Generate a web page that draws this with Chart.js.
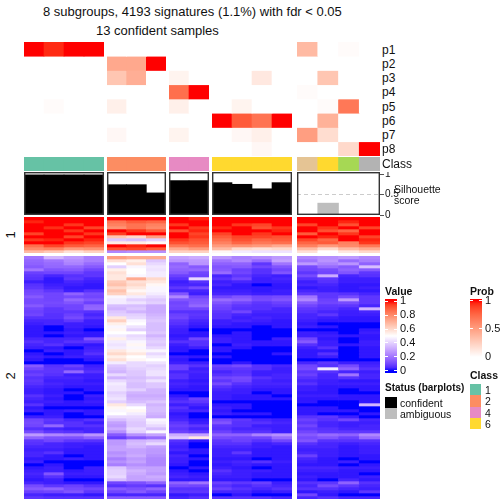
<!DOCTYPE html>
<html>
<head>
<meta charset="utf-8">
<style>
  html, body { margin: 0; background: #fff; width: 504px; height: 504px; overflow: hidden; }
  canvas, .t, .box { position: absolute; }
  .t { font-family: "Liberation Sans", sans-serif; color: #111; white-space: nowrap; line-height: 1; transform: translateY(-50%); }
  .b { font-weight: bold; }
</style>
<script src="https://cdn.jsdelivr.net/npm/chart.js@4"></script>
</head>
<body>
<script>
const probLabels = ["p1", "p2", "p3", "p4", "p5", "p6", "p7", "p8"];

// membership probability, one row per p, 17 samples
const p1 = [1, .95, 1, 1, 0, 0, 0, 0, 0, 0, 0, 0, 0, .36, 0, .02, 0];
const p2 = [0, 0, 0, 0, .45, .45, 1, 0, 0, 0, 0, 0, 0, 0, 0, 0, 0];
const p3 = [0, 0, 0, 0, .3, .42, 0, .06, 0, 0, 0, .12, 0, 0, .3, 0, 0];
const p4 = [0, 0, 0, 0, 0, 0, 0, .72, 1, 0, 0, 0, 0, .02, 0, 0, 0];
const p5 = [0, .02, 0, 0, .08, 0, 0, .08, 0, 0, .06, 0, 0, 0, .02, .68, 0];
const p6 = [0, 0, 0, 0, 0, 0, 0, 0, 0, 1, .8, .7, 1, 0, .4, 0, 0];
const p7 = [0, 0, 0, 0, .04, 0, 0, .06, 0, 0, .04, .08, 0, .5, .18, 0, 0];
const p8 = [0, 0, 0, 0, 0, 0, 0, 0, 0, 0, 0, .04, 0, 0, 0, .2, 1];

const sampleClass = [1, 1, 1, 1, 2, 2, 2, 4, 4, 6, 6, 6, 6, 7, 6, 5, 8];
const silhouette = [.98, .98, .98, .98, .74, .74, .54, .84, .84, .79, .75, .64, .79, 0, .29, 0, 0];
const silStatus = ["c", "c", "c", "c", "c", "c", "c", "c", "c", "c", "c", "c", "c", "a", "a", "a", "a"];

const valueTicks = [0, .2, .4, .6, .8, 1];
const probTicks = [0, .5, 1];
const silTicks = [0, .5, 1];

const sliceSize = [4, 3, 2, 4, 4];
const sliceX = [24, 107, 169, 212, 297];
const sliceW = [80, 59, 40, 80, 83];

const classColors = { 1: "#66C2A5", 2: "#FC8D62", 4: "#E78AC3", 5: "#A6D854", 6: "#FFD92F", 7: "#E5C494", 8: "#B3B3B3" };

// expression values in percent, row cluster 1
const top1 = [[100,100,100,100],[98,100,100,100],[100,100,96,100],[100,97,100,94],[100,100,96,100],[94,100,100,96],[100,100,94,100],[96,98,100,98],[100,100,96,94],[86,94,90,88],[80,82,76,78],[68,64,58,62]];
const top2 = [[100,100,100],[85,90,88],[82,85,82],[78,85,80],[100,96,90],[95,100,100],[65,60,75],[38,36,40],[55,55,52],[100,98,100],[92,94,90],[24,26,26]];
const top3 = [[100,98],[100,100],[96,100],[100,96],[92,98],[100,94],[100,96],[96,92],[92,90],[84,86],[72,76],[62,62]];
const top4 = [[100,100,100,100],[100,100,100,100],[100,96,94,100],[98,100,92,96],[100,100,100,98],[94,100,96,100],[90,94,94,92],[86,92,88,90],[82,88,84,86],[76,78,76,72],[68,60,58,60],[52,46,44,44]];
const top5 = [[100,100,100,100],[100,100,98,100],[94,100,92,100],[100,96,100,94],[100,92,88,100],[90,100,96,100],[100,98,100,94],[94,88,100,98],[88,90,82,96],[82,76,80,84],[68,60,68,72],[58,50,56,60]];

// row cluster 2
const low1 = [[20,34,28,22],[17,20,25,22],[16,18,23,18],[14,17,17,14],[20,13,14,10],[9,10,10,7],[7,4,6,7],[6,2,7,4],[3,2,4,3],[6,3,3,2],[7,4,2,2],[10,7,3,6],[11,10,16,11],[14,10,11,10],[11,10,17,13],[11,11,13,9],[14,10,10,16],[10,7,10,17],[9,7,7,6],[10,6,9,4],[6,6,11,6],[4,4,7,3],[3,4,3,3],[2,0,3,2],[2,0,2,0],[2,2,3,2],[2,0,2,2],[4,4,4,13],[6,4,6,7],[4,6,3,2],[3,2,0,3],[0,3,2,4],[2,0,2,6],[3,2,3,3],[2,0,0,2],[0,0,0,0],[14,6,9,3],[10,7,6,4],[7,7,17,6],[9,6,3,3],[6,4,4,3],[7,3,3,2],[6,4,3,3],[4,3,2,2],[3,2,0,2],[3,2,2,0],[6,3,0,3],[4,2,0,2],[3,3,2,3],[6,2,2,2],[2,0,0,0],[3,2,3,2],[0,2,0,2],[3,3,0,0],[10,7,4,6],[11,6,6,3],[10,17,6,6],[6,4,3,4],[11,7,6,4],[28,24,22,27],[16,12,12,16],[7,10,7,6],[6,4,3,3],[4,4,3,2],[3,3,2,2],[4,6,2,2],[4,2,0,2],[2,2,3,2],[3,0,0,0],[0,2,0,0],[2,3,0,3],[3,3,2,3],[4,13,3,3],[3,6,2,2],[2,3,0,0],[4,3,2,2],[11,7,9,6],[14,16,11,10],[9,10,13,7],[4,3,3,2],[7,6,6,6]];
const low2 = [[75,72,72],[58,54,38],[50,58,42],[40,48,45],[54,50,44],[58,50,46],[56,48,46],[56,72,60],[64,58,56],[66,60,52],[60,56,48],[66,52,48],[62,56,46],[48,46,42],[46,40,38],[46,44,40],[36,36,32],[34,38,32],[38,34,32],[40,40,34],[56,42,36],[62,48,38],[54,50,36],[48,44,36],[52,40,36],[50,50,38],[46,42,34],[54,44,38],[46,48,40],[44,52,38],[46,48,42],[56,52,48],[60,56,42],[54,50,46],[58,52,50],[46,42,44],[38,42,40],[36,40,42],[34,38,44],[42,38,44],[34,36,38],[42,38,44],[46,36,38],[44,36,38],[44,40,34],[40,34,34],[42,32,32],[44,34,34],[40,36,38],[56,42,34],[52,50,36],[48,52,36],[50,46,34],[42,42,32],[36,40,48],[30,38,46],[28,38,42],[32,42,36],[26,40,48],[14,26,30],[8,14,18],[28,34,36],[28,36,42],[30,34,30],[30,30,28],[26,30,28],[28,32,26],[22,28,24],[26,30,24],[22,26,24],[38,30,30],[40,34,30],[40,32,28],[42,30,32],[36,30,30],[10,12,16],[6,8,6],[14,12,16],[10,14,10],[4,4,4],[14,14,14]];
const low3 = [[30,32],[27,28],[16,27],[18,14],[16,17],[14,10],[9,9],[6,42],[3,6],[4,4],[7,11],[4,4],[13,3],[24,10],[13,13],[10,14],[11,17],[10,10],[6,6],[9,7],[10,6],[7,4],[6,3],[4,2],[3,0],[3,2],[2,2],[3,10],[6,6],[3,6],[2,3],[2,0],[0,0],[3,2],[2,0],[3,3],[9,6],[9,3],[4,4],[6,3],[6,3],[3,2],[4,3],[3,2],[2,2],[0,0],[2,0],[4,9],[6,7],[3,4],[6,2],[4,4],[2,0],[3,0],[4,2],[7,3],[9,7],[7,4],[9,7],[32,30],[38,56],[6,2],[4,0],[3,0],[4,2],[2,2],[4,0],[3,2],[3,0],[2,0],[0,2],[2,0],[3,2],[4,3],[2,2],[16,20],[11,10],[6,6],[7,7],[2,3],[4,6]];
const low4 = [[28,23,25,28],[20,24,18,30],[16,16,7,20],[13,14,10,13],[14,9,6,10],[18,10,6,13],[4,7,4,3],[6,10,3,4],[3,4,3,3],[4,2,0,2],[2,2,2,2],[3,3,2,3],[4,4,3,3],[10,13,10,11],[18,16,11,13],[13,10,7,9],[10,7,6,7],[9,6,6,4],[7,10,4,4],[6,4,3,3],[6,3,4,3],[3,4,3,2],[3,2,2,2],[2,2,0,2],[0,0,0,0],[0,2,0,0],[2,2,0,0],[3,2,0,3],[3,2,2,2],[0,3,2,2],[2,2,0,0],[2,0,0,0],[0,0,0,2],[2,0,0,0],[0,0,0,0],[0,2,0,0],[9,11,6,4],[7,7,6,3],[4,6,3,3],[6,7,3,4],[10,11,6,4],[7,10,4,3],[11,6,4,4],[6,4,3,3],[4,3,2,2],[3,3,0,2],[3,2,2,0],[3,2,2,2],[0,0,0,0],[2,2,0,0],[3,2,0,0],[2,0,0,0],[3,2,2,0],[0,0,0,0],[10,7,4,3],[13,6,6,4],[7,6,3,3],[6,4,4,3],[9,6,6,3],[16,16,23,26],[11,10,10,18],[7,9,6,10],[6,6,3,4],[4,4,3,2],[3,3,2,2],[3,7,2,2],[3,3,2,2],[2,2,0,2],[3,4,6,3],[2,3,2,2],[3,2,0,2],[6,3,3,2],[4,3,2,2],[3,3,2,2],[2,2,0,0],[9,7,9,3],[6,4,6,4],[9,6,4,6],[4,4,2,3],[0,2,0,0],[6,6,6,4]];
const low5 = [[24,26,28,24],[20,27,18,22],[28,23,27,16],[11,18,14,36],[10,11,16,14],[7,10,13,7],[11,32,4,6],[6,7,3,3],[3,6,3,3],[4,4,2,2],[2,3,2,3],[4,3,2,2],[7,7,6,4],[20,7,11,7],[24,9,28,7],[14,10,11,7],[10,7,7,4],[7,6,4,34],[6,4,3,4],[4,7,3,3],[4,3,2,2],[3,2,2,2],[2,0,0,0],[3,2,0,0],[0,0,0,2],[3,2,0,3],[3,3,2,2],[10,2,0,2],[14,3,0,3],[6,3,2,3],[3,6,0,2],[2,2,0,2],[2,6,0,2],[2,3,0,2],[0,0,0,0],[4,7,3,3],[10,6,11,4],[11,46,16,6],[7,6,4,3],[9,4,20,4],[6,4,6,4],[4,3,2,2],[6,3,3,3],[3,2,2,2],[3,2,0,2],[2,2,0,0],[3,3,2,2],[2,2,2,2],[2,0,0,2],[0,0,0,34],[2,2,0,0],[2,2,2,0],[2,0,0,2],[6,7,3,0],[9,6,10,4],[7,4,3,3],[10,4,3,4],[7,6,4,4],[10,7,7,7],[14,18,16,24],[11,13,9,18],[13,6,6,6],[6,4,3,4],[4,4,2,3],[3,3,2,3],[4,3,2,3],[9,3,2,2],[4,2,0,2],[3,2,3,0],[2,2,0,2],[4,4,3,3],[3,3,2,2],[2,2,2,0],[3,2,2,3],[2,0,4,2],[6,7,16,6],[4,11,7,4],[6,6,4,3],[2,3,2,7],[10,2,0,0],[4,6,4,4]];

// colours are mixed in LAB, the way circlize does it
const LAB_BLUE = [32.3, 79.19, -107.86], LAB_WHITE = [100, 0, 0], LAB_RED = [53.24, 80.09, 67.2];

function labToCss(c) {
  const fy = (c[0] + 16) / 116, fx = fy + c[1] / 500, fz = fy - c[2] / 200;
  const f = t => t > 6 / 29 ? t * t * t : 3 * (6 / 29) * (6 / 29) * (t - 4 / 29);
  const X = .95047 * f(fx), Y = f(fy), Z = 1.08883 * f(fz);
  const lin = [3.2406 * X - 1.5372 * Y - .4986 * Z, -.9689 * X + 1.8758 * Y + .0415 * Z, .0557 * X - .204 * Y + 1.057 * Z];
  const rgb = lin.map(v => {
    v = Math.min(1, Math.max(0, v));
    return Math.round(255 * (v <= .0031308 ? 12.92 * v : 1.055 * Math.pow(v, 1 / 2.4) - .055));
  });
  return "rgb(" + rgb.join(",") + ")";
}

function mix(a, b, t) { return labToCss(a.map((v, i) => v + (b[i] - v) * t)); }
function valueColor(v) { return v < .5 ? mix(LAB_BLUE, LAB_WHITE, v / .5) : mix(LAB_WHITE, LAB_RED, (v - .5) / .5); }
function probColor(v) { return mix(LAB_WHITE, LAB_RED, v); }

Chart.defaults.animation = false;
Chart.defaults.responsive = false;
Chart.defaults.font.family = '"Liberation Sans", sans-serif';
Chart.defaults.plugins.legend.display = false;
Chart.defaults.plugins.tooltip.enabled = false;

function addCanvas(x, y, w, h) {
  const c = document.createElement("canvas");
  c.width = w; c.height = h;
  c.style.left = x + "px"; c.style.top = y + "px";
  document.body.appendChild(c);
  return c.getContext("2d");
}

function addText(txt, x, y, size, bold, rotate) {
  const d = document.createElement("div");
  d.className = "t" + (bold ? " b" : "");
  d.textContent = txt;
  d.style.left = x + "px"; d.style.top = y + "px"; d.style.fontSize = size + "px";
  if (rotate) { d.style.transform = "translate(-50%,-50%) rotate(-90deg)"; }
  document.body.appendChild(d);
}

function addBox(x, y, w, h, color) {
  const d = document.createElement("div");
  d.className = "box";
  d.style.cssText = "left:" + x + "px;top:" + y + "px;width:" + w + "px;height:" + h + "px;background:" + color;
  document.body.appendChild(d);
}

// a heatmap slice is a stacked bar chart, one dataset per row
function heatmap(x, y, w, h, rows, colorOf) {
  new Chart(addCanvas(x, y, w, h), {
    type: "bar",
    data: {
      labels: rows[0].map((_, i) => i),
      datasets: rows.map(row => ({
        data: row.map(() => 1),
        backgroundColor: row.map(colorOf),
        barPercentage: 1,
        categoryPercentage: 1,
        borderWidth: 0
      }))
    },
    options: {
      scales: {
        x: { display: false, stacked: true },
        y: { display: false, stacked: true, reverse: true, min: 0, max: rows.length }
      }
    }
  });
}

const boxBorder = {
  id: "boxBorder",
  afterDraw(chart) {
    const a = chart.chartArea, ctx = chart.ctx;
    ctx.save();
    ctx.strokeStyle = "#333";
    ctx.lineWidth = 1.4;
    ctx.strokeRect(a.left + .7, a.top + .7, a.width - 1.4, a.height - 1.4);
    ctx.restore();
  }
};

function fixAxis(width) {
  return s => { s.width = width; s.paddingTop = 0; s.paddingBottom = 0; };
}

function silhouettePanel(i, start) {
  const vals = silhouette.slice(start, start + sliceSize[i]);
  const stat = silStatus.slice(start, start + sliceSize[i]);
  const last = i === sliceSize.length - 1;
  new Chart(addCanvas(sliceX[i], 172, sliceW[i] + (last ? 22 : 0), 43 + (last ? 7 : 0)), {
    type: "bar",
    data: {
      labels: vals.map((_, k) => k),
      datasets: [{
        data: vals,
        backgroundColor: stat.map(s => s === "c" ? "#000" : "#BEBEBE"),
        barPercentage: 1,
        categoryPercentage: 1,
        borderWidth: 0
      }]
    },
    options: {
      layout: { padding: { bottom: last ? 7 : 0 } },
      scales: {
        x: { display: false },
        y: {
          display: last,
          position: "right",
          min: 0,
          max: 1.05,
          afterBuildTicks: s => { s.ticks = silTicks.map(v => ({ value: v })); },
          afterFit: last ? fixAxis(22) : undefined,
          border: { display: false, dash: [4, 3] },
          grid: {
            color: c => c.tick && c.tick.value === .5 ? "#CCC" : "transparent",
            tickColor: "#555",
            tickLength: 4
          },
          ticks: { color: "#111", font: { size: 10 }, padding: 1, autoSkip: false, callback: v => v }
        }
      }
    },
    plugins: [boxBorder]
  });
}

// colour bar legend, one floating bar filled with a gradient
function colorBar(x, y, w, h, lo, hi, ticks, colorOf) {
  new Chart(addCanvas(x, y - 6, w + 24, h + 12), {
    type: "bar",
    data: {
      labels: [""],
      datasets: [{
        data: [[lo, hi]],
        barPercentage: 1,
        categoryPercentage: 1,
        borderWidth: 0,
        backgroundColor: c => {
          const a = c.chart.chartArea, s = c.chart.scales.y;
          if (!a) { return "#fff"; }
          const g = c.chart.ctx.createLinearGradient(0, s.getPixelForValue(0), 0, s.getPixelForValue(1));
          for (let k = 0; k <= 20; k++) { g.addColorStop(k / 20, colorOf(k / 20)); }
          return g;
        }
      }]
    },
    options: {
      layout: { padding: { top: 6, bottom: 6 } },
      scales: {
        x: { display: false },
        y: {
          position: "right",
          min: lo,
          max: hi,
          afterBuildTicks: s => { s.ticks = ticks.map(v => ({ value: v })); },
          afterFit: fixAxis(24),
          border: { display: false, dash: [3, w - 6, 3] },
          grid: { color: "#fff", z: 1, drawTicks: false },
          ticks: { color: "#111", font: { size: 11 }, padding: 3, autoSkip: false, callback: v => v }
        }
      }
    }
  });
}

const probRows = [p1, p2, p3, p4, p5, p6, p7, p8];
const hmTop = [top1, top2, top3, top4, top5];
const hmLow = [low1, low2, low3, low4, low5];
const pct = v => valueColor(v / 100);

let start = 0;
sliceSize.forEach((n, i) => {
  const x = sliceX[i], w = sliceW[i];
  heatmap(x, 42, w, 114, probRows.map(r => r.slice(start, start + n)), probColor);
  heatmap(x, 157, w, 14, [sampleClass.slice(start, start + n)], v => classColors[v]);
  silhouettePanel(i, start);
  heatmap(x, 217, w, 36, hmTop[i], pct);
  heatmap(x, 256, w, 243, hmLow[i], pct);
  start += n;
});

colorBar(385, 299, 12, 74, -.03, 1.03, valueTicks, valueColor);
colorBar(470, 299, 12, 58, 0, 1.03, probTicks, probColor);

addText("8 subgroups, 4193 signatures (1.1%) with fdr < 0.05", 43, 10.5, 13);
addText("13 confident samples", 96, 30, 13);

probLabels.forEach((t, i) => addText(t, 382, 50 + i * 14.15, 12));
addText("Class", 382, 163.5, 12);
addText("Silhouette", 394, 188.5, 10.5);
addText("score", 394, 199.5, 10.5);
addText("1", 10, 235, 13, false, true);
addText("2", 10, 376, 13, false, true);

addText("Value", 385, 291, 10.5, true);
addText("Prob", 470, 291, 10.5, true);
addText("Status (barplots)", 385, 388, 10, true);
addBox(385, 397, 12, 11, "#000");
addBox(385, 408, 12, 11, "#BEBEBE");
addText("confident", 400, 403, 10.5);
addText("ambiguous", 400, 414, 10.5);

addText("Class", 470, 375, 10.5, true);
const classLegend = [1, 2, 4, 6];
classLegend.forEach((c, i) => {
  addBox(470, 384 + i * 11.3, 11, 11.3, classColors[c]);
  addText(String(c), 485, 390 + i * 11.3, 10.5);
});
</script>
</body>
</html>
